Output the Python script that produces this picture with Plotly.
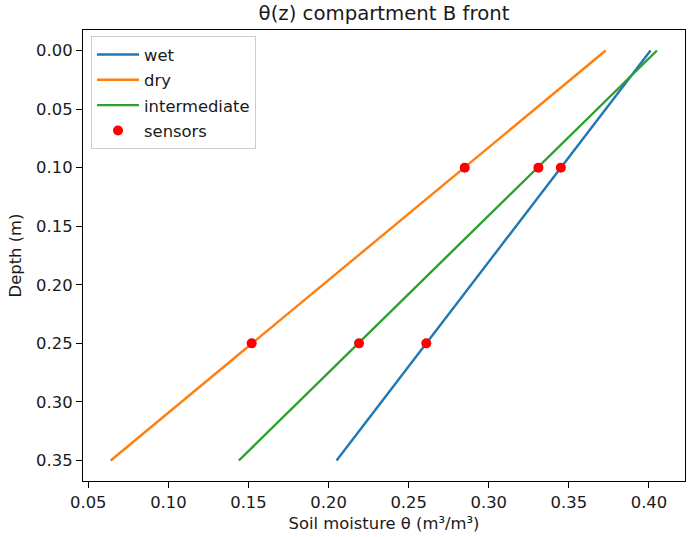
import plotly.graph_objects as go

depth_ends = [0.0, 0.35]
wet_theta = [0.401, 0.205]
dry_theta = [0.373, 0.064]
intermediate_theta = [0.405, 0.144]

sensor_theta = [0.285, 0.331, 0.345, 0.152, 0.219, 0.261]
sensor_depth = [0.10, 0.10, 0.10, 0.25, 0.25, 0.25]

xticks = [0.05, 0.10, 0.15, 0.20, 0.25, 0.30, 0.35, 0.40]
yticks = [0.00, 0.05, 0.10, 0.15, 0.20, 0.25, 0.30, 0.35]

FONT = "DejaVu Sans"
FS = 16.4

fig = go.Figure()
fig.add_trace(go.Scatter(x=wet_theta, y=depth_ends, mode="lines", name="wet",
                         line=dict(color="#1f77b4", width=2.4), legendgroup="a"))
fig.add_trace(go.Scatter(x=dry_theta, y=depth_ends, mode="lines", name="dry",
                         line=dict(color="#ff7f0e", width=2.4), legendgroup="b"))
fig.add_trace(go.Scatter(x=intermediate_theta, y=depth_ends, mode="lines", name="intermediate",
                         line=dict(color="#2ca02c", width=2.4), legendgroup="c"))
fig.add_trace(go.Scatter(x=sensor_theta, y=sensor_depth, mode="markers", name="sensors",
                         marker=dict(color="red", size=10), legendgroup="d"))

axis_common = dict(showline=True, linecolor="black", linewidth=1.2, mirror=True,
                   ticks="outside", ticklen=6, tickcolor="black", showgrid=False,
                   zeroline=False, automargin=False,
                   tickfont=dict(family=FONT, size=FS, color="#1a1a1a"))

fig.update_layout(
    width=688, height=537,
    margin=dict(l=83, r=3, t=30, b=56),
    paper_bgcolor="white", plot_bgcolor="white",
    font=dict(family=FONT, size=FS, color="#1a1a1a"),
    title=dict(text="θ(z) compartment B front", x=0.5, xref="paper",
               xanchor="center", y=1 - 13/537, yanchor="middle",
               font=dict(family=FONT, size=19.7, color="#1a1a1a")),
    xaxis=dict(range=[0.0467, 0.4225], tickvals=xticks, tickformat=".2f",
               title=dict(text="Soil moisture θ (m³/m³)", standoff=6,
                          font=dict(family=FONT, size=FS)), **axis_common),
    yaxis=dict(range=[0.3675, -0.0175], tickvals=yticks, tickformat=".2f",
               title=dict(text="Depth (m)", standoff=10,
                          font=dict(family=FONT, size=FS)), **axis_common),
    legend=dict(x=0.0133, y=0.986, xanchor="left", yanchor="top",
                bgcolor="rgba(255,255,255,0.8)", bordercolor="#cccccc", borderwidth=1,
                font=dict(family=FONT, size=FS), tracegroupgap=1, traceorder="grouped",
                itemwidth=42),
)

fig.write_html("out.html", config={"displayModeBar": False},
               post_script="document.body.style.margin='0';")
